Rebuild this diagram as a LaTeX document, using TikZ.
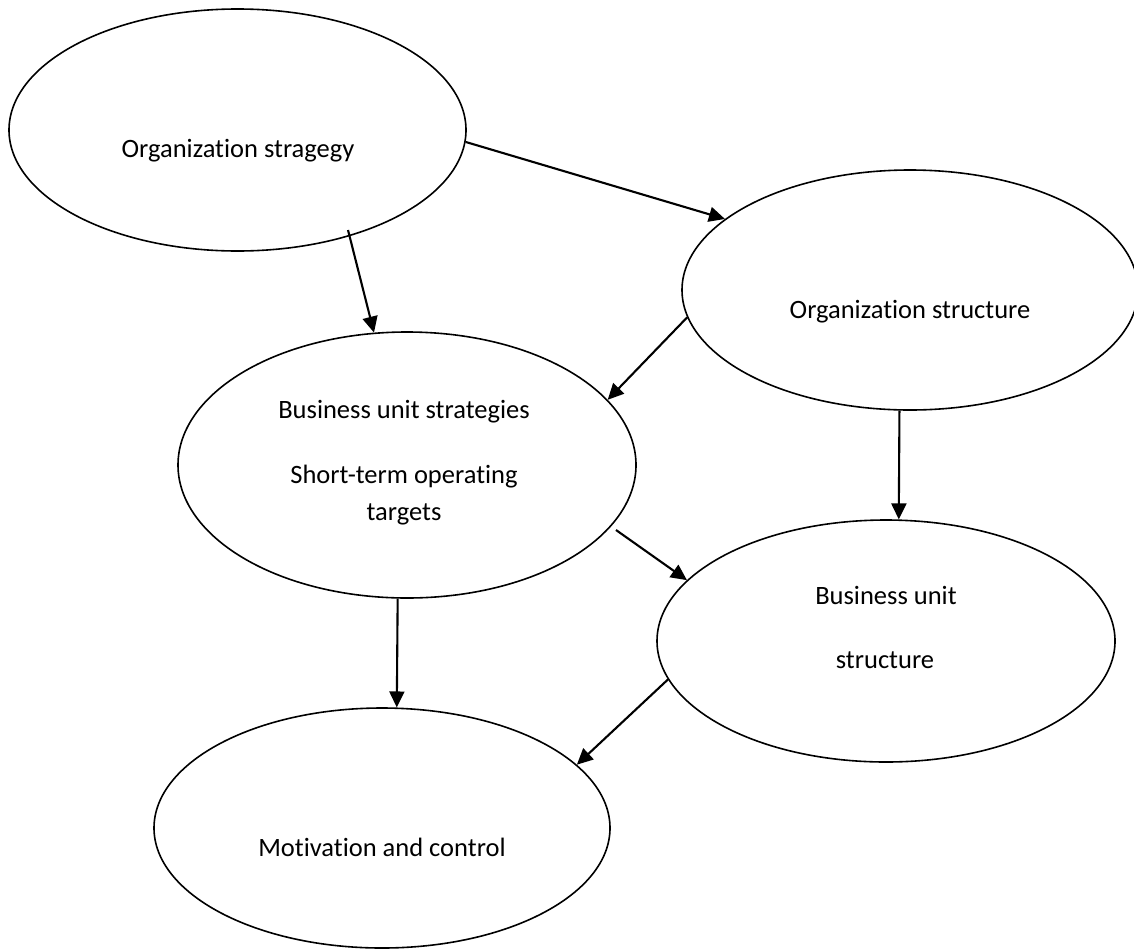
\documentclass[tikz,border=0pt]{standalone}
\usepackage{fontspec}
\setmainfont{Carlito}[Ligatures=NoCommon]
\usetikzlibrary{shapes.geometric,arrows.meta}

\tikzset{
  bubble/.style={ellipse, draw, line width=1.6pt, inner sep=0pt},
  lbl/.style={anchor=base, inner sep=0pt, font=\fontsize{26.5}{31}\selectfont},
  flow/.style={line width=2.1pt, -{Triangle[length=16pt,width=15pt]}},
}

\begin{document}
\begin{tikzpicture}[x=1pt,y=-1pt]
  \useasboundingbox (0,0) rectangle (1134,948);
  \clip (0,0) rectangle (1134,948);
  \fill[white] (0,0) rectangle (1134,948);

  % ellipses
  \node[bubble, minimum width=457pt, minimum height=242pt] (strat)  at (237.5,130) {};
  \node[bubble, minimum width=456pt, minimum height=240pt] (struct) at (910,290) {};
  \node[bubble, minimum width=458pt, minimum height=266pt] (bus)    at (407,465) {};
  \node[bubble, minimum width=458pt, minimum height=242pt] (bustr)  at (886,641) {};
  \node[bubble, minimum width=456pt, minimum height=240pt] (motiv)  at (382,828) {};

  % labels
  \node[lbl] (tstrat)  at (238,157) {Organization stragegy};
  \node[lbl] (tstruct) at (910,318) {Organization structure};
  \node[lbl] (tbusa)   at (404,418) {Business unit strategies};
  \node[lbl] (tbusb)   at (404,483) {Short-term operating};
  \node[lbl] (tbusc)   at (404,520) {targets};
  \node[lbl] (tbustra) at (886,604) {Business unit};
  \node[lbl] (tbustrb) at (885,668) {structure};
  \node[lbl] (tmotiv)  at (382,856) {Motivation and control};

  % free start points of connectors
  \coordinate (s2) at (348,230);
  \coordinate (s5) at (616,530);

  % connectors
  \draw[flow] (strat.-3.3)   -- (struct.159.8);
  \draw[flow] (s2)           -- (bus.104.9);
  \draw[flow] (struct.187.8) -- (bus.18.8);
  \draw[flow] (struct.-95.7) -- (bustr.84.3);
  \draw[flow] (s5)           -- (bustr.163.7);
  \draw[flow] (bus.-94.7)    -- (motiv.83.3);
  \draw[flow] (bustr.190.8)  -- (motiv.18.3);
\end{tikzpicture}
\end{document}
